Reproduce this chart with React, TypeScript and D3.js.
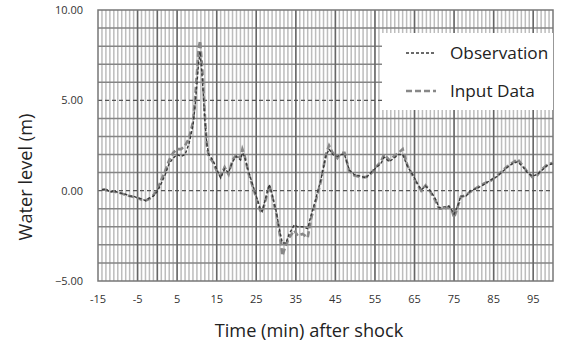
import * as d3 from 'd3';
import React from 'react';
import { useEffect, useRef } from 'react';

// time (min) after shock
const times = [
    -14, -13, -12, -11, -10, -9, -8, -7, -6, -5, -4, -3, -2, -1, 0, 1, 2, 3, 4, 5, 6, 7, 8, 9, 9.5, 10, 10.4, 10.8,
    11.4, 12, 12.5, 13, 14, 15, 16, 17, 18, 19, 20, 21, 21.5, 22, 23, 24, 25, 26, 26.5, 27.5, 28.3, 29, 30, 31,
    31.6, 32.5, 33.3, 34.6, 35.5, 36.7, 38, 38.8, 40, 41.3, 42.6, 43.4, 44.3, 45.5, 46.5, 47.3, 48.5, 49.7, 51.4,
    52.7, 54, 55.2, 56.5, 57.3, 58.6, 59.8, 61, 62, 63.2, 64.5, 65.7, 66.7, 67.8, 69, 70.4, 71.2, 72.5, 73.7, 74.6,
    75, 75.9, 76.7, 78, 79.2, 81, 82.6, 84.3, 86, 87.2, 88.5, 89.8, 91, 92.3, 93.5, 94.8, 96, 97.3, 98.6, 100,
];

const observation = [
    0.05, 0.1, -0.1, 0.0, -0.1, -0.15, -0.2, -0.3, -0.3, -0.4, -0.45, -0.55, -0.4, -0.3, -0.05, 0.4, 0.9, 1.5, 1.8,
    2.0, 1.9, 2.0, 2.6, 3.6, 4.6, 5.9, 7.0, 7.7, 6.1, 3.9, 2.6, 2.0, 1.7, 1.2, 0.7, 1.2, 1.0, 1.6, 1.9, 1.7, 2.1,
    1.9, 1.1, 0.4, -0.3, -1.0, -1.15, -0.3, 0.35, -0.2, -1.1, -2.3, -2.9, -2.9, -2.4, -1.9, -2.0, -2.0, -2.1, -1.4,
    -0.5, 0.6, 1.9, 2.3, 2.0, 1.9, 2.0, 2.0, 1.15, 0.9, 0.8, 0.7, 1.0, 1.25, 1.5, 1.85, 1.6, 1.8, 2.0, 2.0, 1.35,
    0.9, 0.4, 0.05, 0.25, 0.0, -0.5, -0.95, -0.9, -0.85, -1.15, -1.3, -0.85, -0.3, -0.3, 0.0, 0.15, 0.35, 0.6, 0.8,
    1.05, 1.3, 1.5, 1.6, 1.35, 1.0, 0.8, 0.9, 1.15, 1.4, 1.5,
];

const inputData = [
    0.05, 0.05, -0.05, -0.05, -0.1, -0.15, -0.25, -0.3, -0.35, -0.4, -0.5, -0.55, -0.45, -0.25, 0.05, 0.6, 1.1,
    1.7, 2.1, 2.3, 2.3, 2.5, 2.9, 3.8, 5.0, 6.5, 7.8, 8.3, 6.6, 4.2, 2.5, 1.9, 1.6, 1.1, 0.8, 1.3, 0.9, 1.7, 2.0,
    1.8, 2.3, 2.0, 1.0, 0.3, -0.4, -1.1, -1.2, -0.4, 0.3, -0.3, -1.2, -2.5, -3.6, -3.0, -2.6, -2.2, -2.5, -2.4,
    -2.6, -1.6, -0.6, 0.5, 2.0, 2.5, 2.1, 1.8, 2.1, 2.1, 1.1, 0.85, 0.75, 0.75, 0.95, 1.3, 1.6, 2.0, 1.7, 1.9, 2.1,
    2.3, 1.4, 0.85, 0.35, 0.0, 0.3, -0.05, -0.6, -1.0, -1.0, -0.9, -1.2, -1.5, -0.9, -0.35, -0.25, -0.05, 0.2,
    0.4, 0.55, 0.85, 1.1, 1.35, 1.55, 1.75, 1.4, 1.05, 0.75, 0.85, 1.2, 1.45, 1.55,
];

const xTicks = [-15, -5, 5, 15, 25, 35, 45, 55, 65, 75, 85, 95];
const yTicks = [-5, 0, 5, 10];
const seriesNames = ['Observation', 'Input Data'];

const FONT = "'Open Sans', sans-serif";

export default function App() {
    const ref = useRef<any>();

    useEffect(() => {
        const svg = d3.select<any, any>(ref.current);
        svg.selectAll('*').remove();

        const plot = { left: 98, right: 553, top: 10, bottom: 281 };

        const xScale = d3.scaleLinear().domain([-15, 100]).range([plot.left, plot.right]);
        const yScale = d3.scaleLinear().domain([-5, 10]).range([plot.bottom, plot.top]);

        svg.append('rect')
            .attr('x', plot.left).attr('y', plot.top)
            .attr('width', plot.right - plot.left).attr('height', plot.bottom - plot.top)
            .attr('fill', 'white');

        const grid = svg.append('g').attr('class', 'grid');

        // minor vertical lines, every minute
        grid.selectAll('.minor-v').data(d3.range(-14, 100, 1)).join('line')
            .attr('class', 'minor-v')
            .attr('x1', (d) => xScale(d)).attr('x2', (d) => xScale(d))
            .attr('y1', plot.top).attr('y2', plot.bottom)
            .attr('stroke', '#bdbdbd')
            .attr('stroke-width', 1.5);

        // horizontal lines every metre
        grid.selectAll('.h-line').data(d3.range(-4, 10, 1).filter((d) => d !== 0 && d !== 5)).join('line')
            .attr('class', 'h-line')
            .attr('x1', plot.left).attr('x2', plot.right)
            .attr('y1', (d) => yScale(d)).attr('y2', (d) => yScale(d))
            .attr('stroke', '#858585')
            .attr('stroke-width', 1.5);

        // major vertical lines every 10 minutes + the axis at 0
        grid.selectAll('.major-v').data([...d3.range(-5, 100, 10), 0]).join('line')
            .attr('class', 'major-v')
            .attr('x1', (d) => xScale(d)).attr('x2', (d) => xScale(d))
            .attr('y1', plot.top).attr('y2', plot.bottom)
            .attr('stroke', '#666')
            .attr('stroke-width', 1.5);

        // dashed reference lines at 0 and 5
        grid.selectAll('.ref-line').data([0, 5]).join('line')
            .attr('class', 'ref-line')
            .attr('x1', plot.left).attr('x2', plot.right)
            .attr('y1', (d) => yScale(d)).attr('y2', (d) => yScale(d))
            .attr('stroke', '#555')
            .attr('stroke-width', 1.2)
            .attr('stroke-dasharray', '4,3');

        // frame
        svg.append('rect')
            .attr('x', plot.left).attr('y', plot.top)
            .attr('width', plot.right - plot.left).attr('height', plot.bottom - plot.top)
            .attr('fill', 'none')
            .attr('stroke', '#777')
            .attr('stroke-width', 1.5);

        const line = d3.line<number>()
            .x((d, i) => xScale(times[i]))
            .y((d) => yScale(d));

        const lines = svg.append('g').attr('class', 'lines');
        lines.append('path')
            .attr('d', line(inputData))
            .attr('fill', 'none')
            .attr('stroke', '#888')
            .attr('stroke-width', 2.6)
            .attr('stroke-dasharray', '6,3');
        lines.append('path')
            .attr('d', line(observation))
            .attr('fill', 'none')
            .attr('stroke', '#3a3a3a')
            .attr('stroke-width', 1.4)
            .attr('stroke-dasharray', '3,2');

        // tick labels
        svg.selectAll('.y-tick').data(yTicks).join('text')
            .attr('class', 'y-tick')
            .attr('x', 83)
            .attr('y', (d) => yScale(d) + 4)
            .attr('text-anchor', 'end')
            .attr('font-family', FONT)
            .attr('font-size', 11)
            .attr('fill', '#333')
            .text((d) => d3.format('.2f')(d));

        svg.selectAll('.x-tick').data(xTicks).join('text')
            .attr('class', 'x-tick')
            .attr('x', (d) => xScale(d))
            .attr('y', 303)
            .attr('text-anchor', 'middle')
            .attr('font-family', FONT)
            .attr('font-size', 11)
            .attr('fill', '#333')
            .text((d) => String(d));

        // axis titles
        svg.append('text')
            .attr('x', 309).attr('y', 337)
            .attr('text-anchor', 'middle')
            .attr('font-family', FONT)
            .attr('font-size', 18.2)
            .attr('fill', '#222')
            .text('Time (min) after shock');

        svg.append('text')
            .attr('transform', `translate(32, 177) rotate(-90)`)
            .attr('text-anchor', 'middle')
            .attr('font-family', FONT)
            .attr('font-size', 18.2)
            .attr('fill', '#222')
            .text('Water level (m)');

        // legend
        const legend = svg.append('g').attr('class', 'legend');
        legend.append('rect')
            .attr('x', 382).attr('y', 33)
            .attr('width', 171).attr('height', 77)
            .attr('fill', 'white');

        const legendStyles = [
            { color: '#3a3a3a', width: 1.4, dash: '3,2' },
            { color: '#888', width: 2.6, dash: '6,3' },
        ];
        seriesNames.forEach((name, i) => {
            const y = 53 + i * 38;
            legend.append('line')
                .attr('x1', 406).attr('x2', 436)
                .attr('y1', y).attr('y2', y)
                .attr('stroke', legendStyles[i].color)
                .attr('stroke-width', legendStyles[i].width)
                .attr('stroke-dasharray', legendStyles[i].dash);
            legend.append('text')
                .attr('x', 450).attr('y', y + 6)
                .attr('font-family', FONT)
                .attr('font-size', 17.2)
                .attr('fill', '#222')
                .text(name);
        });
    }, []);

    return (
        <React.Fragment>
            <svg ref={ref} width={566} height={347}
                style={{ position: 'absolute', left: 0, top: 0, background: 'white' }}></svg>
        </React.Fragment>
    );
}
